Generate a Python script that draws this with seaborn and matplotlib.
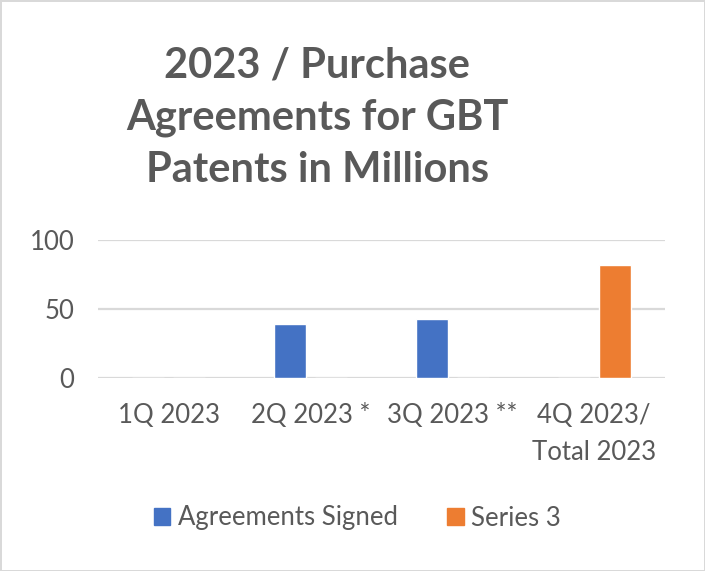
""" Bar chart of the 2023 purchase agreements for GBT patents """

import matplotlib.pyplot as plt
import matplotlib.patches as mpatches
import pandas as pd
import seaborn as sns

# chart values (millions)
quarters = ["1Q 2023", "2Q 2023 *", "3Q 2023 **", "4Q 2023/\nTotal 2023"]
agreements_signed = [0, 39.3, 42.9, 0]
series_3 = [0, 0, 0, 81.7]
series_names = ["Agreements Signed", "Series 3"]
y_ticks = [0, 50, 100]

blue = "#4472C4"
orange = "#ED7D31"
grey_text = "#595959"

sns.set_style("white")
plt.rcParams["font.family"] = ["Lato", "DejaVu Sans"]

df = pd.DataFrame({
    "quarter": quarters * 2,
    "series": [series_names[0]] * 4 + [series_names[1]] * 4,
    "value": agreements_signed + series_3,
})

fig = plt.figure(figsize=(7.05, 5.71), dpi=100)
fig.patch.set_edgecolor("#d9d9d9")
fig.patch.set_linewidth(2)
ax = fig.add_axes([98 / 705, 1 - 378 / 571, 567 / 705, 138 / 571])

sns.barplot(data=df, x="quarter", y="value", hue="series", order=quarters,
            hue_order=series_names, palette=[blue, orange], saturation=1,
            width=0.58, gap=0.22, errorbar=None, legend=False, ax=ax, zorder=3)

ax.set_ylim(0, 100)
ax.set_yticks(y_ticks)
ax.set_xlim(-0.5, 3.5)
ax.grid(axis="y", color="#d9d9d9", linewidth=1.6, zorder=0)
for side in ["top", "right", "left", "bottom"]:
    ax.spines[side].set_visible(False)
ax.tick_params(axis="both", length=0, labelsize=18.5, labelcolor=grey_text)
ax.tick_params(axis="x", pad=18)
ax.tick_params(axis="y", pad=17)
for lbl in ax.get_xticklabels():
    lbl.set_linespacing(1.6)
ax.set_xlabel("")
ax.set_ylabel("")

fig.text(0.45, 0.918, "2023 / Purchase\nAgreements for GBT\nPatents in Millions",
         ha="center", va="top", fontsize=30, fontweight="bold",
         color=grey_text, linespacing=1.45)

handles = [mpatches.Patch(color=blue, label=series_names[0]),
           mpatches.Patch(color=orange, label=series_names[1])]
leg = fig.legend(handles=handles, loc="center", bbox_to_anchor=(0.507, 1 - 518 / 571),
                 ncol=2, frameon=False, fontsize=18.5, handlelength=0.65, handleheight=0.65,
                 handletextpad=0.3, columnspacing=1.9)
for t in leg.get_texts():
    t.set_color(grey_text)

plt.savefig("out.png", dpi=100, edgecolor=fig.get_edgecolor())
